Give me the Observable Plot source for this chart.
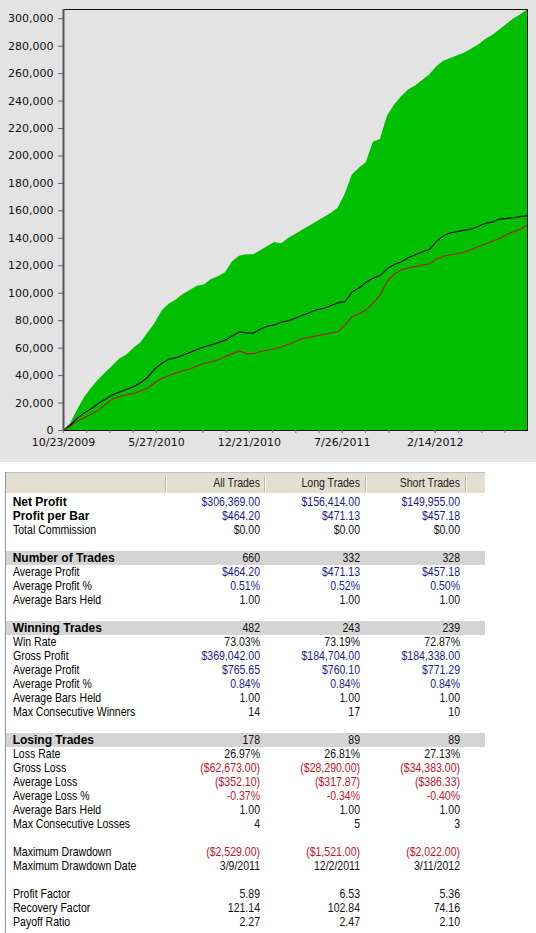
<!DOCTYPE html>
<html>
<head>
<meta charset="utf-8">
<script src="https://cdn.jsdelivr.net/npm/d3@7"></script>
<script src="https://cdn.jsdelivr.net/npm/@observablehq/plot@0.6"></script>
<style>
  html, body { margin: 0; padding: 0; background: #ffffff; }
  #chart { position: absolute; left: 0; top: 0; width: 536px; height: 462px; }
  #tbl { position: absolute; left: 0; top: 0; width: 536px; height: 933px; }
  #tbl div { position: absolute; white-space: nowrap; }
</style>
</head>
<body>
<div id="chart"></div>
<div id="tbl"></div>
<script>
// ---------- chart data (bar index, equity in $) ----------
const bars = [0,10,20,30,40,50,60,70,80,90,100,110,120,130,140,150,160,170,180,190,200,210,220,230,240,250,260,270,280,290,300,310,320,330,340,350,360,370,380,390,400,410,420,430,440,450,460,470,480,490,500,510,520,530,540,550,560,570,580,590,600,610,620,630,640,650,659];
const allTradesEquity = [0,5000,15000,24000,31000,37000,42000,47000,52000,55000,60000,64000,71000,78000,87000,92000,95000,99000,102000,105000,106000,110000,112000,115000,123000,127000,128000,128000,131000,134000,137000,136000,140000,143000,146000,149000,152000,155000,158000,162000,172000,186000,191000,195000,210000,212000,229000,237000,243000,248000,251000,255000,259000,265000,269000,271000,273000,275000,278000,281000,285000,288000,292000,296000,300000,303000,306369];
const longTradesEquity = [0,4000,9000,13000,16000,20000,23000,26000,28000,30000,32000,35000,39000,45000,49000,52000,53000,55000,57000,59000,61000,62500,64000,66000,69000,72000,71000,71000,74000,76000,77000,79000,80000,82000,84000,86000,88000,89000,91000,93000,94000,101000,104000,108000,111000,113000,118000,121000,123000,126000,128000,130000,132000,138000,142000,144000,145000,146000,147000,149000,151000,152000,154000,154500,155000,156000,156414];
const shortTradesEquity = [0,3000,7000,9500,12000,15000,19000,23000,25000,26000,27000,29000,31000,35000,38000,40000,42000,43500,45000,47000,49000,50000,51500,54000,56000,58000,56000,56000,57500,58500,59500,61000,63000,65000,67000,68000,69000,70000,71000,72000,77000,83000,85000,88000,93000,99000,109000,114000,117000,118500,119500,120500,121500,125000,127000,128000,129000,130000,132000,134000,136000,138000,140000,143000,145000,147000,149955];

const yTicks = [0,20000,40000,60000,80000,100000,120000,140000,160000,180000,200000,220000,240000,260000,280000,300000];
const minorTickBars = [0,33,66,99,132,165,198,231,264,297,330,363,396,429,462,495,528,561,594,627];
const labelTickBars = [0,132,264,396,528];
const dateLabels = ["10/23/2009","5/27/2010","12/21/2010","7/26/2011","2/14/2012"];

// ---------- table data ----------
const columnHeaders = ["All Trades","Long Trades","Short Trades"];
const rowLabels = ["Net Profit","Profit per Bar","Total Commission","","Number of Trades","Average Profit","Average Profit %","Average Bars Held","","Winning Trades","Win Rate","Gross Profit","Average Profit","Average Profit %","Average Bars Held","Max Consecutive Winners","","Losing Trades","Loss Rate","Gross Loss","Average Loss","Average Loss %","Average Bars Held","Max Consecutive Losses","","Maximum Drawdown","Maximum Drawdown Date","","Profit Factor","Recovery Factor","Payoff Ratio"];
const allTradesStats = ["$306,369.00","$464.20","$0.00","","660","$464.20","0.51%","1.00","","482","73.03%","$369,042.00","$765.65","0.84%","1.00","14","","178","26.97%","($62,673.00)","($352.10)","-0.37%","1.00","4","","($2,529.00)","3/9/2011","","5.89","121.14","2.27"];
const longTradesStats = ["$156,414.00","$471.13","$0.00","","332","$471.13","0.52%","1.00","","243","73.19%","$184,704.00","$760.10","0.84%","1.00","17","","89","26.81%","($28,290.00)","($317.87)","-0.34%","1.00","5","","($1,521.00)","12/2/2011","","6.53","102.84","2.47"];
const shortTradesStats = ["$149,955.00","$457.18","$0.00","","328","$457.18","0.50%","1.00","","239","72.87%","$184,338.00","$771.29","0.84%","1.00","10","","89","27.13%","($34,383.00)","($386.33)","-0.40%","1.00","3","","($2,022.00)","3/11/2012","","5.36","74.16","2.10"];

// ---------- chart ----------
const rows = bars.map((b, i) => ({bar: b, all: allTradesEquity[i], long: longTradesEquity[i], short: shortTradesEquity[i]}));
const labelMap = new Map(labelTickBars.map((b, i) => [b, dateLabels[i]]));

const chart = Plot.plot({
  width: 536,
  height: 462,
  marginLeft: 63,
  marginRight: 9,
  marginTop: 9,
  marginBottom: 32,
  style: {background: "#e3e3e3", fontFamily: "'DejaVu Sans', sans-serif", fontSize: "11px", color: "#111"},
  x: {domain: [0, 659], axis: null},
  y: {domain: [0, 306700], axis: null},
  marks: [
    Plot.areaY(rows, {x: "bar", y: "all", fill: "#00bf00"}),
    Plot.lineY(rows, {x: "bar", y: "long", stroke: "#000000", strokeWidth: 1.1}),
    Plot.lineY(rows, {x: "bar", y: "short", stroke: "#b01c0c", strokeWidth: 1.1}),
    Plot.frame({stroke: "#111"}),
    Plot.ruleX([0], {stroke: "#555", strokeWidth: 2}),
    Plot.axisY({ticks: yTicks, tickFormat: d3.format(","), tickSize: 5, tickPadding: 5, label: null, stroke: "#666"}),
    Plot.axisX({ticks: minorTickBars, tickFormat: () => "", tickSize: 3, label: null, stroke: "#777"}),
    Plot.axisX({ticks: labelTickBars, tickFormat: d => labelMap.get(d), tickSize: 3, tickPadding: 5, label: null, stroke: "#777"})
  ]
});
document.getElementById("chart").appendChild(chart);

// ---------- table ----------
const tbl = document.getElementById("tbl");
function box(left, top, width, height, style, text) {
  const d = document.createElement("div");
  d.style.left = left + "px";
  d.style.top = top + "px";
  if (width != null) d.style.width = width + "px";
  if (height != null) d.style.height = height + "px";
  Object.assign(d.style, style || {});
  if (text != null) d.textContent = text;
  tbl.appendChild(d);
  return d;
}
const regFont = "12.7px 'Liberation Sans', Arial, sans-serif";
const boldFont = "bold 12px 'Liberation Sans', Arial, sans-serif";
const squeeze = 0.83;
const valueRight = [260, 360, 460];
const blue = "#1c1c8e", red = "#c0142c", black = "#111";
const boldRows = new Set([0, 1, 4, 9, 17]);
const sectionRows = new Set([4, 9, 17]);
const blueRows = new Set([0, 1, 5, 6, 11, 12, 13]);
const redRows = new Set([19, 20, 21, 25]);

function rightText(right, top, h, color, text) {
  box(right - 150, top, 150, h, {textAlign: "right", font: regFont, lineHeight: h + "px", color: color,
    transform: "scaleX(" + squeeze + ")", transformOrigin: "right center"}, text);
}

// frame lines
box(5, 472, 480, 1, {background: "#b4c2d2"});
box(5, 472, 1, 461, {background: "#8595ab"});
// header
box(6, 473, 479, 20, {background: "#e2ded0"});
[165, 264, 365, 465].forEach(x => {
  box(x, 475, 1, 16, {background: "#bdb8aa"});
  box(x + 1, 475, 1, 16, {background: "#fbfaf5"});
});
columnHeaders.forEach((h, j) => rightText(valueRight[j], 473, 20, "#222", h));

const statCols = [allTradesStats, longTradesStats, shortTradesStats];
rowLabels.forEach((label, i) => {
  const top = 494.7 + 14 * i;
  if (sectionRows.has(i)) box(6, top, 479, 14, {background: "#d4d4d4"});
  if (label) {
    if (boldRows.has(i)) {
      box(12.7, top, 200, 14, {font: boldFont, lineHeight: "14px", color: "#000"}, label);
    } else {
      box(12.7, top, 200, 14, {font: regFont, lineHeight: "14px", color: "#000",
        transform: "scaleX(" + squeeze + ")", transformOrigin: "left center"}, label);
    }
  }
  const c = blueRows.has(i) ? blue : redRows.has(i) ? red : black;
  statCols.forEach((col, j) => {
    if (col[i]) rightText(valueRight[j], top, 14, c, col[i]);
  });
});
</script>
</body>
</html>
